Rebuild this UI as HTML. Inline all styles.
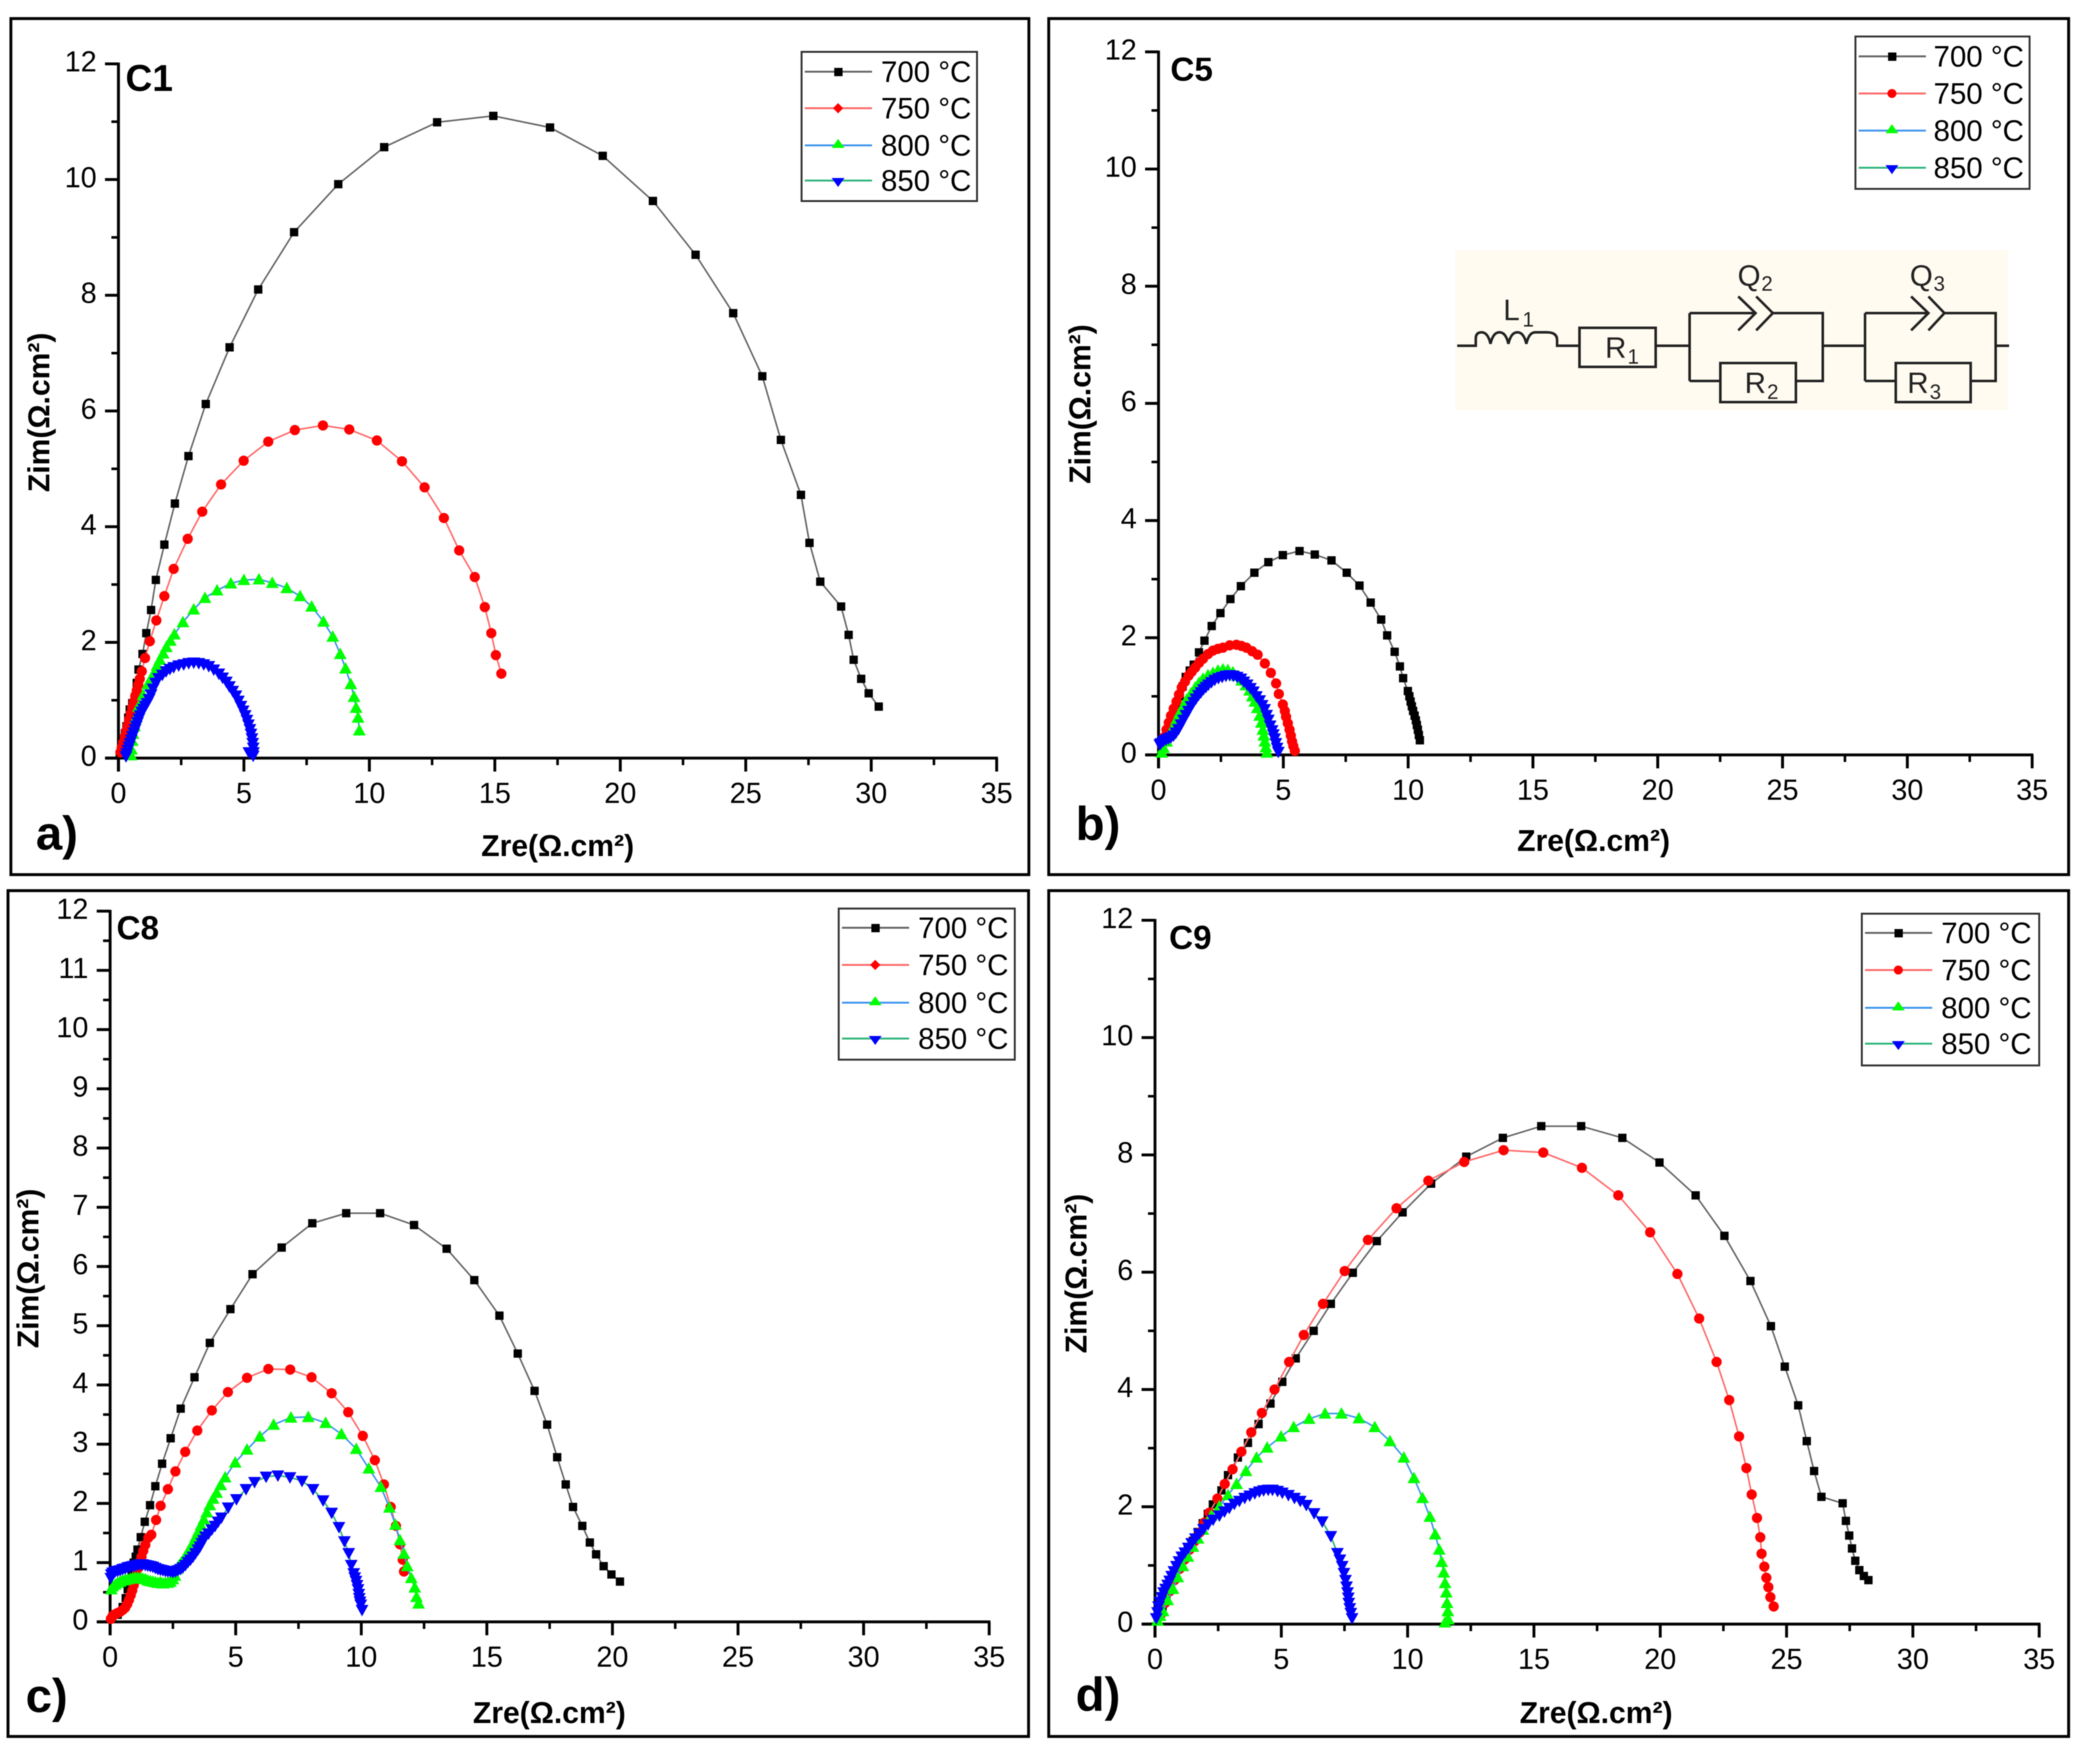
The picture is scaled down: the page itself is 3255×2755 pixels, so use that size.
<!DOCTYPE html>
<html>
<head>
<meta charset="utf-8">
<style>
html,body{margin:0;padding:0;background:#fff;}
svg{display:block;filter:blur(0.9px);}
text{font-family:"Liberation Sans",sans-serif;fill:#000;}
.tl{font-size:46px;}
.tt{font-size:47px;font-weight:bold;}
.tag{font-size:74px;font-weight:bold;}
.cn{font-size:52px;font-weight:bold;}
.cl{font-size:46px;fill:#222;}
.cs{font-size:32px;fill:#222;}
.w{fill:none;stroke:#222;stroke-width:4;}
</style>
</head>
<body>
<svg id="chart" xmlns="http://www.w3.org/2000/svg" width="3255" height="2755" viewBox="0 0 3255 2755">
<rect x="0" y="0" width="3255" height="2755" fill="#fff"/>

<rect x="17" y="29" width="1590" height="1337" fill="#fff" stroke="#000" stroke-width="4.5"/>
<rect x="1638" y="29" width="1593" height="1337" fill="#fff" stroke="#000" stroke-width="4.5"/>
<rect x="12.5" y="1391" width="1594" height="1321" fill="#fff" stroke="#000" stroke-width="4.5"/>
<rect x="1638" y="1391" width="1593" height="1321" fill="#fff" stroke="#000" stroke-width="4.5"/>

<g>
<rect x="2273" y="390" width="863" height="250" fill="#fffbf0"/>
<g transform="translate(-8 -1)">
<path class="w" d="M2284 541H2313V530Q2313 520 2322 520Q2332 520 2336 538Q2340 520 2350 520Q2360 520 2364 538Q2368 520 2378 520Q2388 520 2392 538Q2396 520 2406 520Q2416 520 2424 520Q2440 520 2440 532V541H2475M2594 541H2647M2647 490V596M2647 490H2750M2777 490H2855V596H2813M2647 596H2695M2855 541H2921M2921 490V596M2921 490H3020M3045 490H3125V596H3086M2921 596H2969M3125 541H3146"/>
<path class="w" d="M2723 464L2750 490L2723 517M2751 464L2777 490L2751 517"/>
<path class="w" d="M2993 464L3020 490L2993 517M3020 464L3045 490L3020 517"/>
<rect class="w" x="2475" y="513" width="119" height="61"/>
<rect class="w" x="2695" y="568" width="118" height="61"/>
<rect class="w" x="2969" y="568" width="117" height="61"/>
</g>
<text class="cl" x="2348" y="500">L</text><text class="cs" x="2378" y="510">1</text>
<text class="cl" x="2714" y="446">Q</text><text class="cs" x="2751" y="454">2</text>
<text class="cl" x="2983" y="446">Q</text><text class="cs" x="3020" y="454">3</text>
<text class="cl" x="2507" y="559">R</text><text class="cs" x="2542" y="568">1</text>
<text class="cl" x="2725" y="614">R</text><text class="cs" x="2760" y="623">2</text>
<text class="cl" x="2979" y="614">R</text><text class="cs" x="3014" y="623">3</text>
</g>

<g id="plots"></g>

<text class="tag" x="56" y="1327">a)</text>
<text class="tag" x="1680" y="1312">b)</text>
<text class="tag" x="40" y="2674">c)</text>
<text class="tag" x="1680" y="2672">d)</text>

<text class="cn" style="font-size:58px" x="196" y="142">C1</text>
<text class="cn" x="1828" y="126">C5</text>
<text class="cn" x="182" y="1467">C8</text>
<text class="cn" x="1826" y="1482">C9</text>

<text class="tt" text-anchor="middle" x="871" y="1337">Zre(Ω.cm²)</text>
<text class="tt" text-anchor="middle" x="2489" y="1329">Zre(Ω.cm²)</text>
<text class="tt" text-anchor="middle" x="858" y="2691">Zre(Ω.cm²)</text>
<text class="tt" text-anchor="middle" x="2493" y="2691">Zre(Ω.cm²)</text>

<text class="tt" text-anchor="middle" transform="translate(77 644) rotate(-90)">Zim(Ω.cm²)</text>
<text class="tt" text-anchor="middle" transform="translate(1703 631) rotate(-90)">Zim(Ω.cm²)</text>
<text class="tt" text-anchor="middle" transform="translate(60 1981) rotate(-90)">Zim(Ω.cm²)</text>
<text class="tt" text-anchor="middle" transform="translate(1697 1989) rotate(-90)">Zim(Ω.cm²)</text>

<g transform="translate(1252 81)">
<rect width="274" height="233" fill="#fff" stroke="#333" stroke-width="3"/>
<line x1="5" x2="110" y1="31" y2="31" stroke="#666" stroke-width="3"/><rect x="51" y="25" width="13" height="13" fill="#000"/><text class="tl" x="124" y="47">700 °C</text>
<line x1="5" x2="110" y1="88" y2="88" stroke="#ff6a6a" stroke-width="3"/><polygon points="57,80 65,88 57,96 49,88" fill="#f00"/><text class="tl" x="124" y="104">750 °C</text>
<line x1="5" x2="110" y1="146" y2="146" stroke="#3f96ef" stroke-width="3"/><polygon points="57,136 67,150 47,150" fill="#0f0"/><text class="tl" x="124" y="162">800 °C</text>
<line x1="5" x2="110" y1="201" y2="201" stroke="#2fb57c" stroke-width="3"/><polygon points="47,197 67,197 57,211" fill="#00f"/><text class="tl" x="124" y="217">850 °C</text>
</g>
<g transform="translate(2898 57)">
<rect width="272" height="238" fill="#fff" stroke="#333" stroke-width="3"/>
<line x1="5" x2="110" y1="31" y2="31" stroke="#666" stroke-width="3"/><rect x="51" y="25" width="13" height="13" fill="#000"/><text class="tl" x="122" y="47">700 °C</text>
<line x1="5" x2="110" y1="89" y2="89" stroke="#ff6a6a" stroke-width="3"/><circle cx="57" cy="89" r="7" fill="#f00"/><text class="tl" x="122" y="105">750 °C</text>
<line x1="5" x2="110" y1="147" y2="147" stroke="#3f96ef" stroke-width="3"/><polygon points="57,137 67,151 47,151" fill="#0f0"/><text class="tl" x="122" y="163">800 °C</text>
<line x1="5" x2="110" y1="205" y2="205" stroke="#2fb57c" stroke-width="3"/><polygon points="47,201 67,201 57,215" fill="#00f"/><text class="tl" x="122" y="221">850 °C</text>
</g>
<g transform="translate(1310 1419)">
<rect width="275" height="236" fill="#fff" stroke="#333" stroke-width="3"/>
<line x1="5" x2="110" y1="30" y2="30" stroke="#666" stroke-width="3"/><rect x="51" y="24" width="13" height="13" fill="#000"/><text class="tl" x="124" y="46">700 °C</text>
<line x1="5" x2="110" y1="88" y2="88" stroke="#ff6a6a" stroke-width="3"/><polygon points="57,80 65,88 57,96 49,88" fill="#f00"/><text class="tl" x="124" y="104">750 °C</text>
<line x1="5" x2="110" y1="147" y2="147" stroke="#3f96ef" stroke-width="3"/><polygon points="57,137 67,151 47,151" fill="#0f0"/><text class="tl" x="124" y="163">800 °C</text>
<line x1="5" x2="110" y1="203" y2="203" stroke="#2fb57c" stroke-width="3"/><polygon points="47,199 67,199 57,213" fill="#00f"/><text class="tl" x="124" y="219">850 °C</text>
</g>
<g transform="translate(2908 1427)">
<rect width="277" height="237" fill="#fff" stroke="#333" stroke-width="3"/>
<line x1="5" x2="110" y1="30" y2="30" stroke="#666" stroke-width="3"/><rect x="51" y="24" width="13" height="13" fill="#000"/><text class="tl" x="124" y="46">700 °C</text>
<line x1="5" x2="110" y1="88" y2="88" stroke="#ff6a6a" stroke-width="3"/><circle cx="57" cy="88" r="7" fill="#f00"/><text class="tl" x="124" y="104">750 °C</text>
<line x1="5" x2="110" y1="147" y2="147" stroke="#3f96ef" stroke-width="3"/><polygon points="57,137 67,151 47,151" fill="#0f0"/><text class="tl" x="124" y="163">800 °C</text>
<line x1="5" x2="110" y1="203" y2="203" stroke="#2fb57c" stroke-width="3"/><polygon points="47,199 67,199 57,213" fill="#00f"/><text class="tl" x="124" y="219">850 °C</text>
</g>
</svg>

<script>
const xTickLabels = [0,5,10,15,20,25,30,35];
const yTickLabelsEven = [0,2,4,6,8,10,12];
const yTickLabelsAll = [0,1,2,3,4,5,6,7,8,9,10,11,12];

// Panel a (C1): [Zre, Zim]
const c1T700 = [[.05,.06],[.12,.18],[.19,.3],[.26,.43],[.32,.55],[.39,.7],[.45,.84],[.55,.95],[.66,1.06],[.73,1.3],[.8,1.53],[.96,1.8],[1.11,2.16],[1.3,2.56],[1.49,3.08],[1.83,3.69],[2.25,4.4],[2.79,5.22],[3.48,6.12],[4.43,7.1],[5.57,8.1],[7,9.09],[8.76,9.92],[10.59,10.56],[12.7,10.99],[14.94,11.1],[17.2,10.9],[19.3,10.41],[21.3,9.63],[23,8.7],[24.5,7.69],[25.66,6.6],[26.4,5.5],[27.2,4.55],[27.54,3.72],[27.97,3.05],[28.8,2.62],[29.1,2.13],[29.3,1.7],[29.6,1.37],[29.9,1.12],[30.3,.89]];
const c1T750 = [[.08,.1],[.13,.18],[.19,.27],[.25,.37],[.31,.47],[.37,.57],[.43,.67],[.49,.77],[.55,.87],[.61,.97],[.67,1.07],[.73,1.17],[.79,1.27],[.85,1.37],[.93,1.5],[1.06,1.73],[1.25,2.02],[1.51,2.38],[1.83,2.8],[2.2,3.27],[2.76,3.79],[3.34,4.26],[4.09,4.73],[4.99,5.14],[5.97,5.47],[7.03,5.67],[8.15,5.75],[9.2,5.68],[10.3,5.49],[11.3,5.13],[12.2,4.68],[12.97,4.15],[13.58,3.59],[14.2,3.13],[14.6,2.61],[14.86,2.16],[15.04,1.78],[15.26,1.46]];
const c1T800 = [[.5,.05],[.52,.15],[.55,.3],[.58,.42],[.64,.55],[.7,.7],[.8,.89],[.98,1.09],[1.17,1.28],[1.3,1.38],[1.43,1.48],[1.54,1.6],[1.65,1.7],[1.78,1.81],[1.91,1.92],[2.07,2.03],[2.23,2.14],[2.57,2.35],[3,2.57],[3.45,2.77],[3.93,2.9],[4.48,3.02],[5,3.08],[5.6,3.09],[6.13,3.03],[6.71,2.94],[7.24,2.8],[7.7,2.62],[8.17,2.36],[8.54,2.1],[8.84,1.8],[9.05,1.55],[9.26,1.28],[9.39,1.06],[9.47,.87],[9.55,.7],[9.6,.48]];
const c1T850 = [[.3,.03],[.33,.08],[.37,.14],[.42,.2],[.46,.26],[.51,.32],[.56,.38],[.61,.44],[.66,.5],[.71,.56],[.76,.62],[.81,.68],[.87,.74],[.93,.8],[1,.85],[1.07,.9],[1.14,.95],[1.22,1.02],[1.3,1.1],[1.38,1.2],[1.48,1.3],[1.6,1.38],[1.75,1.44],[1.9,1.5],[2.05,1.54],[2.2,1.57],[2.4,1.6],[2.6,1.62],[2.8,1.64],[3,1.65],[3.2,1.64],[3.4,1.62],[3.6,1.59],[3.8,1.53],[4,1.46],[4.15,1.39],[4.3,1.32],[4.42,1.24],[4.55,1.16],[4.68,1.08],[4.78,.99],[4.88,.9],[4.97,.82],[5.05,.74],[5.12,.66],[5.18,.58],[5.24,.5],[5.28,.42],[5.32,.34],[5.35,.26],[5.37,.18],[5.38,.1],[5.37,.04],[5.2,.1]];

// Panel b (C5)
const c5T700 = [[.13,.14],[.22,.26],[.32,.38],[.45,.52],[.59,.67],[.72,.84],[.85,1],[.97,1.17],[1.09,1.33],[1.25,1.44],[1.41,1.54],[1.62,1.75],[1.84,1.95],[2.13,2.2],[2.48,2.42],[2.88,2.66],[3.3,2.88],[3.84,3.11],[4.4,3.29],[4.98,3.41],[5.65,3.48],[6.26,3.42],[6.93,3.32],[7.54,3.11],[8.05,2.89],[8.5,2.6],[8.92,2.31],[9.16,2.04],[9.46,1.76],[9.67,1.51],[9.8,1.31],[9.99,1.09],[10.05,1],[10.1,.91],[10.15,.83],[10.2,.75],[10.26,.67],[10.31,.59],[10.35,.51],[10.39,.43],[10.43,.34],[10.47,.25]];
const c5T750 = [[.13,.18],[.22,.3],[.32,.43],[.41,.55],[.5,.67],[.61,.79],[.72,.91],[.82,1.03],[.93,1.15],[1.06,1.25],[1.2,1.35],[1.33,1.42],[1.47,1.49],[1.62,1.57],[1.78,1.64],[1.98,1.72],[2.18,1.78],[2.38,1.81],[2.58,1.83],[2.85,1.87],[3.12,1.88],[3.32,1.86],[3.52,1.83],[3.75,1.77],[3.97,1.71],[4.26,1.56],[4.5,1.4],[4.71,1.22],[4.82,1.04],[4.98,.86],[5.06,.75],[5.11,.65],[5.18,.54],[5.25,.43],[5.3,.33],[5.35,.23],[5.4,.15],[5.46,.07]];
const c5T800 = [[.13,.04],[.2,.12],[.32,.23],[.45,.35],[.59,.47],[.72,.6],[.85,.72],[1,.84],[1.12,.94],[1.3,1.05],[1.47,1.15],[1.62,1.23],[1.78,1.3],[1.98,1.36],[2.18,1.4],[2.38,1.44],[2.58,1.46],[2.78,1.45],[2.98,1.41],[3.15,1.35],[3.33,1.27],[3.5,1.19],[3.65,1.1],[3.76,1],[3.86,.91],[3.96,.8],[4.05,.67],[4.12,.55],[4.18,.43],[4.22,.33],[4.26,.23],[4.3,.13],[4.34,.04]];
const c5T850 = [[.05,.18],[.1,.2],[.2,.24],[.3,.26],[.4,.28],[.5,.3],[.6,.33],[.7,.38],[.8,.44],[.9,.52],[1,.6],[1.1,.68],[1.2,.75],[1.3,.83],[1.4,.9],[1.5,.96],[1.6,1.02],[1.7,1.07],[1.8,1.12],[1.9,1.16],[2,1.2],[2.12,1.24],[2.25,1.28],[2.4,1.31],[2.55,1.33],[2.7,1.35],[2.85,1.36],[3,1.35],[3.15,1.33],[3.3,1.3],[3.42,1.25],[3.55,1.2],[3.68,1.14],[3.8,1.08],[3.92,1],[4.05,.93],[4.15,.85],[4.25,.78],[4.33,.68],[4.4,.6],[4.47,.5],[4.55,.42],[4.6,.35],[4.65,.28],[4.7,.2],[4.75,.12],[4.8,.05]];

// Panel c (C8)
const c8T700 = [[.08,.06],[.3,.12],[.5,.25],[.62,.4],[.7,.55],[.78,.7],[.86,.85],[.94,1],[1.02,1.1],[1.09,1.22],[1.22,1.43],[1.38,1.69],[1.59,1.97],[1.8,2.29],[2.07,2.67],[2.41,3.1],[2.81,3.6],[3.36,4.13],[3.97,4.71],[4.79,5.28],[5.67,5.87],[6.83,6.32],[8.05,6.73],[9.4,6.9],[10.75,6.9],[12.1,6.7],[13.4,6.3],[14.5,5.77],[15.5,5.17],[16.23,4.53],[16.9,3.9],[17.4,3.33],[17.8,2.78],[18.14,2.32],[18.43,1.94],[18.8,1.62],[19.1,1.34],[19.35,1.14],[19.65,.94],[19.96,.8],[20.3,.68]];
const c8T750 = [[.03,.05],[.1,.1],[.2,.13],[.3,.15],[.4,.17],[.5,.2],[.6,.24],[.68,.3],[.75,.37],[.82,.45],[.88,.53],[.94,.62],[1,.7],[1.05,.8],[1.1,.9],[1.16,1],[1.25,1.1],[1.32,1.2],[1.4,1.3],[1.52,1.42],[1.64,1.47],[1.83,1.72],[2.01,1.96],[2.3,2.24],[2.6,2.54],[2.99,2.87],[3.47,3.23],[4.05,3.57],[4.69,3.88],[5.45,4.12],[6.3,4.27],[7.17,4.26],[8.02,4.13],[8.82,3.86],[9.48,3.54],[10.06,3.14],[10.54,2.73],[10.9,2.32],[11.17,1.94],[11.38,1.62],[11.54,1.31],[11.65,1.05],[11.7,.85]];
const c8T800 = [[.05,.55],[.1,.6],[.2,.63],[.3,.66],[.4,.68],[.5,.7],[.6,.71],[.7,.72],[.8,.73],[.9,.74],[1,.745],[1.1,.745],[1.2,.74],[1.3,.73],[1.4,.72],[1.5,.7],[1.6,.69],[1.7,.68],[1.8,.67],[1.9,.66],[2,.67],[2.1,.65],[2.2,.66],[2.3,.66],[2.4,.68],[2.5,.72],[2.58,.78],[2.65,.89],[2.74,.95],[2.83,1],[2.96,1.08],[3.1,1.18],[3.2,1.26],[3.31,1.34],[3.42,1.44],[3.52,1.53],[3.62,1.63],[3.73,1.73],[3.85,1.85],[3.97,1.97],[4.1,2.08],[4.24,2.18],[4.4,2.31],[4.58,2.44],[4.98,2.69],[5.45,2.91],[5.96,3.13],[6.51,3.33],[7.2,3.45],[7.89,3.46],[8.58,3.36],[9.21,3.17],[9.8,2.92],[10.3,2.59],[10.78,2.28],[11.12,1.93],[11.36,1.64],[11.54,1.38],[11.7,1.15],[11.83,.94],[11.99,.74],[12.13,.58],[12.2,.42],[12.28,.31]];
const c8T850 = [[.03,.74],[.05,.8],[.1,.83],[.2,.85],[.3,.86],[.4,.87],[.5,.89],[.6,.9],[.7,.92],[.8,.93],[.9,.94],[1,.95],[1.1,.96],[1.2,.97],[1.3,.97],[1.4,.96],[1.5,.95],[1.6,.94],[1.7,.93],[1.8,.91],[1.9,.89],[2,.88],[2.1,.87],[2.2,.86],[2.3,.85],[2.4,.85],[2.5,.84],[2.6,.85],[2.7,.87],[2.8,.89],[2.9,.92],[3,.96],[3.1,1.01],[3.2,1.05],[3.3,1.1],[3.4,1.16],[3.5,1.22],[3.58,1.27],[3.65,1.33],[3.72,1.38],[3.8,1.44],[3.92,1.49],[4.05,1.56],[4.18,1.62],[4.3,1.69],[4.43,1.76],[4.7,1.93],[5.03,2.07],[5.41,2.24],[5.75,2.36],[6.21,2.45],[6.68,2.47],[7.16,2.44],[7.64,2.38],[8.08,2.24],[8.48,2.05],[8.82,1.84],[9.11,1.6],[9.33,1.36],[9.5,1.16],[9.6,.96],[9.7,.82],[9.74,.75],[9.79,.69],[9.83,.62],[9.87,.55],[9.9,.47],[9.92,.4],[9.95,.34],[9.98,.29],[10.03,.2]];

// Panel d (C9)
const c9T700 = [[.18,.17],[.3,.3],[.45,.46],[.6,.62],[.76,.8],[.93,.96],[1.1,1.13],[1.3,1.27],[1.5,1.42],[1.7,1.57],[1.89,1.72],[2.09,1.88],[2.29,2.04],[2.63,2.28],[2.89,2.54],[3.28,2.84],[3.68,3.09],[4.1,3.41],[4.57,3.76],[5.04,4.13],[5.57,4.53],[6.28,5],[6.96,5.46],[7.83,5.99],[8.78,6.53],[9.8,7.02],[10.93,7.51],[12.32,7.97],[13.77,8.29],[15.29,8.49],[16.87,8.49],[18.5,8.29],[19.97,7.87],[21.4,7.31],[22.54,6.62],[23.57,5.85],[24.38,5.08],[24.93,4.39],[25.46,3.73],[25.8,3.12],[26.09,2.61],[26.38,2.17],[27.22,2.06],[27.35,1.76],[27.48,1.51],[27.59,1.29],[27.72,1.08],[27.88,.92],[28.06,.82],[28.24,.75]];
const c9T750 = [[.24,.17],[.4,.36],[.58,.56],[.77,.75],[.97,.94],[1.17,1.1],[1.37,1.27],[1.56,1.41],[1.76,1.56],[1.95,1.73],[2.15,1.9],[2.47,2.14],[2.76,2.39],[3.07,2.64],[3.42,2.94],[3.81,3.27],[4.23,3.6],[4.73,4],[5.31,4.47],[5.89,4.93],[6.65,5.46],[7.51,6.02],[8.43,6.55],[9.56,7.09],[10.82,7.56],[12.24,7.88],[13.8,8.08],[15.37,8.04],[16.9,7.78],[18.34,7.31],[19.6,6.68],[20.68,5.97],[21.54,5.21],[22.23,4.47],[22.73,3.82],[23.12,3.2],[23.41,2.66],[23.62,2.21],[23.83,1.81],[23.96,1.48],[24.01,1.2],[24.12,.98],[24.2,.79],[24.28,.63],[24.36,.46],[24.49,.3]];
const c9T800 = [[.1,.06],[.2,.14],[.32,.22],[.5,.41],[.71,.6],[.9,.8],[1.1,.99],[1.3,1.15],[1.5,1.32],[1.7,1.46],[1.89,1.61],[2.23,1.85],[2.55,2.01],[2.89,2.2],[3.23,2.39],[3.6,2.61],[4.02,2.84],[4.44,3.01],[4.99,3.2],[5.49,3.36],[6.1,3.5],[6.73,3.59],[7.38,3.59],[8.07,3.51],[8.7,3.36],[9.3,3.12],[9.85,2.84],[10.25,2.49],[10.59,2.15],[10.88,1.83],[11.09,1.53],[11.25,1.27],[11.35,1.06],[11.43,.88],[11.48,.7],[11.53,.54],[11.56,.36],[11.59,.22],[11.61,.08],[11.48,.03]];
const c9T850 = [[.05,.1],[.1,.2],[.14,.3],[.2,.38],[.27,.46],[.34,.54],[.42,.6],[.5,.67],[.58,.74],[.66,.82],[.75,.9],[.85,.99],[.95,1.07],[1.06,1.15],[1.18,1.22],[1.32,1.3],[1.45,1.38],[1.6,1.46],[1.75,1.54],[1.92,1.62],[2.1,1.7],[2.3,1.78],[2.55,1.85],[2.75,1.92],[2.94,1.98],[3.14,2.05],[3.34,2.1],[3.55,2.15],[3.75,2.19],[3.95,2.23],[4.13,2.26],[4.3,2.28],[4.48,2.29],[4.65,2.29],[4.85,2.27],[5.04,2.24],[5.28,2.2],[5.52,2.15],[5.75,2.1],[5.99,2.03],[6.3,1.89],[6.62,1.75],[6.96,1.5],[7.22,1.21],[7.32,1.1],[7.41,.99],[7.48,.87],[7.54,.75],[7.58,.64],[7.62,.54],[7.65,.45],[7.67,.36],[7.71,.27],[7.75,.19],[7.8,.1]];

const SVGNS = 'http://www.w3.org/2000/svg';
const root = document.getElementById('plots');
function make(tag, parent, attrs) {
  const el = document.createElementNS(SVGNS, tag);
  for (const k in attrs) el.setAttribute(k, attrs[k]);
  parent.appendChild(el);
  return el;
}
const styles = [
  {line:'#666666', fill:'#000000', kind:'square'},
  {line:'#ff6a6a', fill:'#ff0000', kind:'circle'},
  {line:'#3f96ef', fill:'#00ff00', kind:'up'},
  {line:'#2fb57c', fill:'#0000ff', kind:'down'}
];
const seriesNames = ['700', '750', '800', '850'];
function drawMarker(g, kind, color, px, py) {
  let m;
  if (kind === 'square') m = make('rect', g, {x:px-6.5, y:py-6.5, width:13, height:13, fill:color});
  else if (kind === 'circle') m = make('circle', g, {cx:px, cy:py, r:8, fill:color});
  else if (kind === 'up') m = make('polygon', g, {points:(px)+','+(py-10)+' '+(px+10)+','+(py+8)+' '+(px-10)+','+(py+8), fill:color});
  else m = make('polygon', g, {points:(px-10)+','+(py-8)+' '+(px+10)+','+(py-8)+' '+(px)+','+(py+10), fill:color});
  
  
}
function drawPanel(p) {
  const sx = v => p.x0 + v / 35 * (p.x35 - p.x0);
  const sy = v => p.y0 - v / 12 * (p.y0 - p.y12);
  const g = make('g', root, {});
  
  
  const xAxis = make('line', g, {x1:p.x0-20, x2:sx(35)+2, y1:p.y0, y2:p.y0, stroke:'#000', 'stroke-width':4.5});
  
  
  const yAxis = make('line', g, {x1:p.x0, x2:p.x0, y1:sy(12)-2, y2:p.y0+21, stroke:'#000', 'stroke-width':4.5});
  
  
  xTickLabels.forEach((v, i) => {
    const t = make('line', g, {x1:sx(v), x2:sx(v), y1:p.y0, y2:p.y0+21, stroke:'#000', 'stroke-width':4.5});
    
    
    const lab = make('text', g, {x:sx(v), y:p.y0+70, 'text-anchor':'middle', 'font-size':45});
    lab.textContent = v;
    
    
    if (i < xTickLabels.length - 1) {
      const mid = (v + xTickLabels[i+1]) / 2;
      const mt = make('line', g, {x1:sx(mid), x2:sx(mid), y1:p.y0, y2:p.y0+11, stroke:'#000', 'stroke-width':4});
      
      
    }
  });
  p.yTicks.forEach((v, i) => {
    const t = make('line', g, {x1:p.x0-21, x2:p.x0, y1:sy(v), y2:sy(v), stroke:'#000', 'stroke-width':4.5});
    
    
    const lab = make('text', g, {x:p.x0-34, y:sy(v)+12, 'text-anchor':'end', 'font-size':45});
    lab.textContent = v;
    
    
    if (i < p.yTicks.length - 1) {
      const mid = (v + p.yTicks[i+1]) / 2;
      const mt = make('line', g, {x1:p.x0-11, x2:p.x0, y1:sy(mid), y2:sy(mid), stroke:'#000', 'stroke-width':4});
      
      
    }
  });
  p.series.forEach((pts, i) => {
    const s = styles[i];
    const sg = make('g', g, {});
    
    
    const ln = make('polyline', sg, {points:pts.map(d => sx(d[0]) + ',' + sy(d[1])).join(' '), fill:'none', stroke:s.line, 'stroke-width':2.5});
    
    
    pts.forEach(d => drawMarker(sg, s.kind, s.fill, sx(d[0]), sy(d[1])));
  });
}
drawPanel({name:'panel-a', x0:185, x35:1556.7, y0:1184, y12:99.7, yTicks:yTickLabelsEven, series:[c1T700,c1T750,c1T800,c1T850]});
drawPanel({name:'panel-b', x0:1809.5, x35:3174, y0:1179, y12:81, yTicks:yTickLabelsEven, series:[c5T700,c5T750,c5T800,c5T850]});
drawPanel({name:'panel-c', x0:172, x35:1545, y0:2533, y12:1423, yTicks:yTickLabelsAll, series:[c8T700,c8T750,c8T800,c8T850]});
drawPanel({name:'panel-d', x0:1804, x35:3185, y0:2536.5, y12:1437.3, yTicks:yTickLabelsEven, series:[c9T700,c9T750,c9T800,c9T850]});
</script>
</body>
</html>
